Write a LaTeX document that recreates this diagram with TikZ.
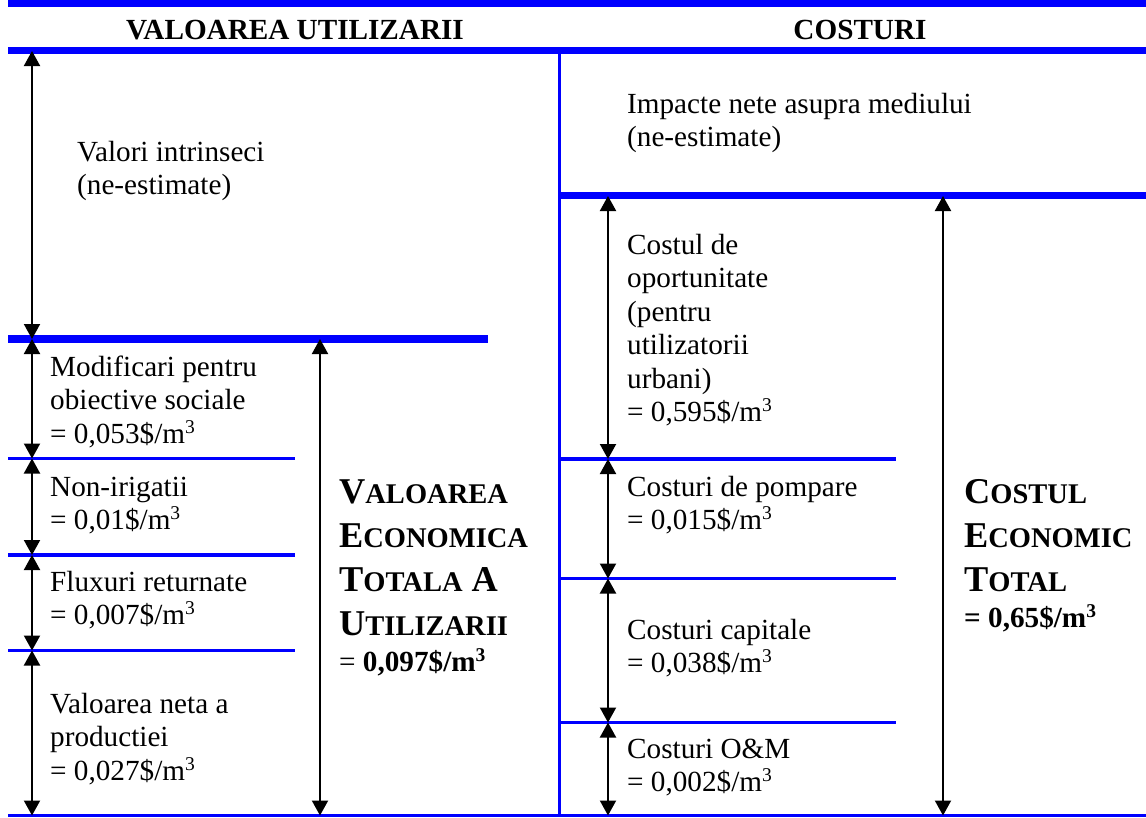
\documentclass[tikz,border=0pt]{standalone}
\usepackage{fontspec}
\setmainfont{Liberation Serif}
\usetikzlibrary{arrows.meta}

\definecolor{rule}{RGB}{0,0,255}

% body text size and line pitch
\newcommand{\body}{\fontsize{29.2}{33.5}\selectfont}
% left-aligned lines whose baseline is the first line's baseline
\newcommand{\block}[2][33.5pt]{\vtop{\baselineskip=#1\lineskiplimit=-100pt\halign{##\hfil\cr#2\crcr}}}
% superscript three
\newcommand{\cubed}{\raisebox{0.33em}{\fontsize{19.5}{19.5}\selectfont 3}}
% hand-made small capitals for the totals
\newcommand{\sca}[2]{{\fontsize{36.3}{44}\selectfont#1}{\fontsize{28.5}{44}\selectfont#2}}

\tikzset{
  thickrule/.style={draw=rule, line width=7.5pt},
  thinrule/.style={draw=rule, line width=3.5pt},
  vrule/.style={draw=rule, line width=3pt},
  dimarrow/.style={draw=black, line width=2pt,
    {Triangle[length=15pt,width=16pt]}-{Triangle[length=15pt,width=16pt]}},
  txt/.style={anchor=base west, inner sep=0pt, font=\body},
  bigtxt/.style={anchor=base west, inner sep=0pt, font=\bfseries\fontsize{36.3}{44}\selectfont},
  head/.style={anchor=base, inner sep=0pt, font=\bfseries\fontsize{29.2}{33}\selectfont},
}

\begin{document}
\begin{tikzpicture}[x=1pt,y=-1pt]
\useasboundingbox (0,0) rectangle (1146,817);

% ---- blue rules ----
\draw[thickrule, line width=7pt] (8,3.5) -- (1146,3.5);
\draw[thickrule, line width=7pt] (8,50.5) -- (1146,50.5);
\draw[vrule] (559.5,54) -- (559.5,817);
\draw[thickrule] (558,195.5) -- (1146,195.5);
\draw[thickrule] (8,339) -- (488,339);
\draw[thinrule] (8,458.5) -- (295,458.5);
\draw[thinrule] (8,555) -- (295,555);
\draw[thinrule] (8,650.5) -- (295,650.5);
\draw[thinrule] (558,459) -- (896,459);
\draw[thinrule] (558,578.5) -- (896,578.5);
\draw[thinrule] (558,722.5) -- (896,722.5);
\draw[vrule] (8,815.5) -- (1146,815.5);

% ---- headings ----
\node[head] (hUse) at (295,39.5) {VALOAREA UTILIZARII};
\node[head] (hCost) at (860,39.5) {COSTURI};

% ---- arrow end points ----
\coordinate (u0) at (32,51);
\coordinate (u1) at (32,339);
\coordinate (u2) at (32,458.5);
\coordinate (u3) at (32,555);
\coordinate (u4) at (32,650.5);
\coordinate (u5) at (32,815.5);
\coordinate (ut0) at (320,339);
\coordinate (ut1) at (320,815.5);
\coordinate (c0) at (608,196);
\coordinate (c1) at (608,459);
\coordinate (c2) at (608,578.5);
\coordinate (c3) at (608,722.5);
\coordinate (c4) at (608,815.5);
\coordinate (ct0) at (943,196);
\coordinate (ct1) at (943,815.5);

% ---- dimension arrows ----
\draw[dimarrow] (u0) -- (u1);
\draw[dimarrow] (u1) -- (u2);
\draw[dimarrow] (u2) -- (u3);
\draw[dimarrow] (u3) -- (u4);
\draw[dimarrow] (u4) -- (u5);
\draw[dimarrow] (ut0) -- (ut1);
\draw[dimarrow] (c0) -- (c1);
\draw[dimarrow] (c1) -- (c2);
\draw[dimarrow] (c2) -- (c3);
\draw[dimarrow] (c3) -- (c4);
\draw[dimarrow] (ct0) -- (ct1);

% ---- left column texts ----
\node[txt] (intr) at (77,161) {\block{Valori intrinseci\cr (ne-estimate)}};
\node[txt] (soc) at (50,376) {\block{Modificari pentru\cr obiective sociale\cr = 0,053\$/m\cubed}};
\node[txt] (nonirr) at (50,496) {\block{Non-irigatii\cr = 0,01\$/m\cubed}};
\node[txt] (flux) at (50,591) {\block{Fluxuri returnate\cr = 0,007\$/m\cubed}};
\node[txt] (prod) at (50,713) {\block{Valoarea neta a\cr productiei\cr = 0,027\$/m\cubed}};
\node[bigtxt] (tev) at (339,503) {\block[44pt]{\sca{V}{ALOAREA}\cr
  \sca{E}{CONOMICA}\cr
  \sca{T}{OTALA} \sca{A}{}\cr
  \sca{U}{TILIZARII}\cr\noalign{\kern-8pt}
  {\body\mdseries = \bfseries 0,097\$/m\cubed}\cr}};

% ---- right column texts ----
\node[txt] (envi) at (627,113) {\block{Impacte nete asupra mediului\cr (ne-estimate)}};
\node[txt] (opp) at (627,254) {\block{Costul de\cr oportunitate\cr (pentru\cr utilizatorii\cr urbani)\cr = 0,595\$/m\cubed}};
\node[txt] (pump) at (627,496) {\block{Costuri de pompare\cr = 0,015\$/m\cubed}};
\node[txt] (capex) at (627,639) {\block{Costuri capitale\cr = 0,038\$/m\cubed}};
\node[txt] (om) at (627,758) {\block{Costuri O\&M\cr = 0,002\$/m\cubed}};
\node[bigtxt] (tec) at (964,503) {\block[44pt]{\sca{C}{OSTUL}\cr
  \sca{E}{CONOMIC}\cr
  \sca{T}{OTAL}\cr\noalign{\kern-8pt}
  {\body = 0,65\$/m\cubed}\cr}};
\end{tikzpicture}
\end{document}
